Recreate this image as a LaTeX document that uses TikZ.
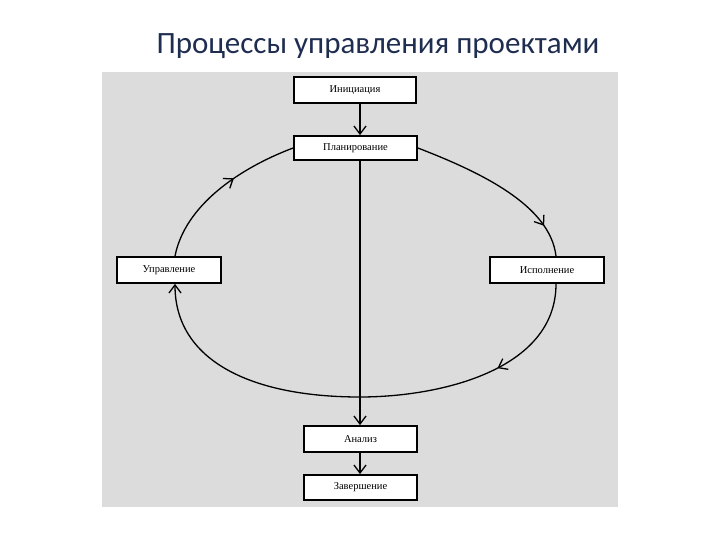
\documentclass[tikz,border=0pt]{standalone}
\usepackage{fontspec}
\setmainfont{Liberation Serif}
\newfontfamily\titlefont{Carlito}
\usetikzlibrary{arrows.meta,decorations.markings}
\definecolor{panel}{HTML}{DCDCDC}
\definecolor{titleblue}{HTML}{1F2D50}
\begin{document}
\begin{tikzpicture}[x=1pt,y=-1pt,
  box/.style={draw=black,line width=1.8pt,fill=white,inner sep=0pt,font=\fontsize{10.5}{12}\selectfont},
  conn/.style={line width=1.3pt,-{Straight Barb[length=8pt,width=12pt]}},
  flow/.style={line width=1.3pt},
  midarrow/.style={postaction={decorate},decoration={markings,mark=at position #1 with {\arrow{Straight Barb[length=8pt,width=12pt,line width=1.3pt]}}}}]
\useasboundingbox (0,0) rectangle (720,540);
\fill[panel] (102,72) rectangle (618,507);
\node[font=\titlefont\fontsize{31}{34}\selectfont,text=titleblue] (title) at (378,46) {Процессы управления проектами};
\node[box,minimum width=122pt,minimum height=26pt] (ini) at (355,90) {Инициация};
\node[box,minimum width=123pt,minimum height=24pt] (plan) at (355.5,148) {Планирование};
\node[box,minimum width=104pt,minimum height=26pt] (upr) at (169,270) {Управление};
\node[box,minimum width=114pt,minimum height=26pt] (isp) at (547,270) {Исполнение};
\node[box,minimum width=113pt,minimum height=26pt] (ana) at (360.5,439) {Анализ};
\node[box,minimum width=113pt,minimum height=25pt] (zav) at (360.5,487.5) {Завершение};
\draw[conn] (ini.south -| 360,0) -- (plan.north -| 360,0);
\draw[conn] (plan.south -| 360,0) -- (ana.north -| 360,0);
\draw[conn] (ana.south -| 360,0) -- (zav.north -| 360,0);
\draw[flow,midarrow=0.82] (plan.east) .. controls (480,172) and (550,205) .. (isp.north -| 556,0);
\draw[conn,midarrow=0.22] (isp.south -| 556,0) .. controls (556,370) and (440,397) .. (360,397)
   .. controls (250,397) and (175,360) .. (upr.south -| 175,0);
\draw[flow,midarrow=0.6] (upr.north -| 175,0) .. controls (185,205) and (240,168) .. (plan.west);
\end{tikzpicture}
\end{document}
